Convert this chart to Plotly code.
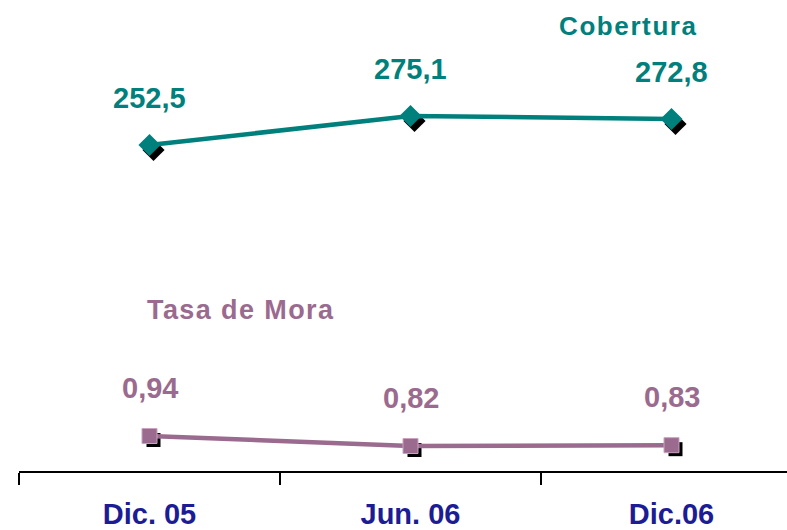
import plotly.graph_objects as go

categories = ["Dic. 05", "Jun. 06", "Dic.06"]
cobertura = [252.5, 275.1, 272.8]
mora = [0.94, 0.82, 0.83]
cobertura_labels = ["252,5", "275,1", "272,8"]
mora_labels = ["0,94", "0,82", "0,83"]

TEAL = "#00807c"
MAUVE = "#9b6a8f"
NAVY = "#1c1c94"
FONT = "Liberation Sans, Arial, sans-serif"

# plot area 768 x 471 px
PLOT_W, PLOT_H = 768, 471
px_per_x = 261.0
x_range = [-0.5, -0.5 + PLOT_W / px_per_x]
MORA_K = 83.3
COB_K = 1.283
mora_range = [0.52, 0.52 + PLOT_H / MORA_K]
cob_range = [-1.6, -1.6 + PLOT_H / COB_K]

def shift(r, d):
    return [r[0] + d, r[1] + d]

fig = go.Figure()

# shadow markers on the base (hidden, shifted) axes so they sit behind
fig.add_trace(go.Scatter(x=categories, y=mora, mode="markers", xaxis="x", yaxis="y",
                         marker=dict(symbol="square", size=14, color="black"),
                         showlegend=False, hoverinfo="skip"))
fig.add_trace(go.Scatter(x=categories, y=cobertura, mode="markers", xaxis="x", yaxis="y2",
                         marker=dict(symbol="diamond", size=17, color="black"),
                         showlegend=False, hoverinfo="skip"))

fig.add_trace(go.Scatter(x=categories, y=mora, mode="lines+markers", xaxis="x2", yaxis="y3",
                         line=dict(color=MAUVE, width=4.5),
                         marker=dict(symbol="square", size=15, color=MAUVE,
                                     line=dict(color="#c9a3bf", width=1)),
                         showlegend=False))
fig.add_trace(go.Scatter(x=categories, y=cobertura, mode="lines+markers", xaxis="x2", yaxis="y4",
                         line=dict(color=TEAL, width=4.5),
                         marker=dict(symbol="diamond", size=17, color=TEAL),
                         showlegend=False))

annotations = []
for c, v, t in zip(categories, cobertura, cobertura_labels):
    annotations.append(dict(x=c, y=v, xref="x2", yref="y4", text=t, showarrow=False,
                            yshift=47, font=dict(family=FONT, size=29, color=TEAL, weight="bold")))
for c, v, t in zip(categories, mora, mora_labels):
    annotations.append(dict(x=c, y=v, xref="x2", yref="y3", text=t, showarrow=False,
                            yshift=48, font=dict(family=FONT, size=29, color=MAUVE, weight="bold")))
annotations.append(dict(x=(628 - 19) / PLOT_W, y=(471 - 26) / PLOT_H, xref="paper", yref="paper",
                        xanchor="center", yanchor="middle",
                        text='<span style="letter-spacing:1.6px">Cobertura</span>', showarrow=False,
                        font=dict(family=FONT, size=26, color=TEAL, weight="bold")))
annotations.append(dict(x=(240 - 19) / PLOT_W, y=(471 - 310) / PLOT_H, xref="paper", yref="paper",
                        xanchor="center", yanchor="middle",
                        text='<span style="letter-spacing:1.4px">Tasa de Mora</span>', showarrow=False,
                        font=dict(family=FONT, size=27, color=MAUVE, weight="bold")))

fig.update_layout(
    width=787, height=530,
    margin=dict(l=19, r=0, t=0, b=59),
    paper_bgcolor="white", plot_bgcolor="white",
    xaxis=dict(type="category", range=shift(x_range, -4 / px_per_x), visible=False),
    xaxis2=dict(type="category", range=x_range, overlaying="x", side="bottom",
                tickson="boundaries", ticks="outside", ticklen=12, tickwidth=2, tickcolor="black",
                ticklabelstandoff=16,
                showline=True, linecolor="black", linewidth=2, showgrid=False, zeroline=False,
                tickfont=dict(family=FONT, size=29, color=NAVY, weight="bold")),
    yaxis=dict(range=shift(mora_range, 4 / MORA_K), visible=False),
    yaxis2=dict(range=shift(cob_range, 5 / COB_K), overlaying="y", visible=False),
    yaxis3=dict(range=mora_range, overlaying="y", visible=False),
    yaxis4=dict(range=cob_range, overlaying="y", visible=False),
    annotations=annotations,
)

fig.write_html("out.html",
               config={"displayModeBar": False},
               post_script="document.body.style.margin='0';document.body.style.overflow='hidden';")
